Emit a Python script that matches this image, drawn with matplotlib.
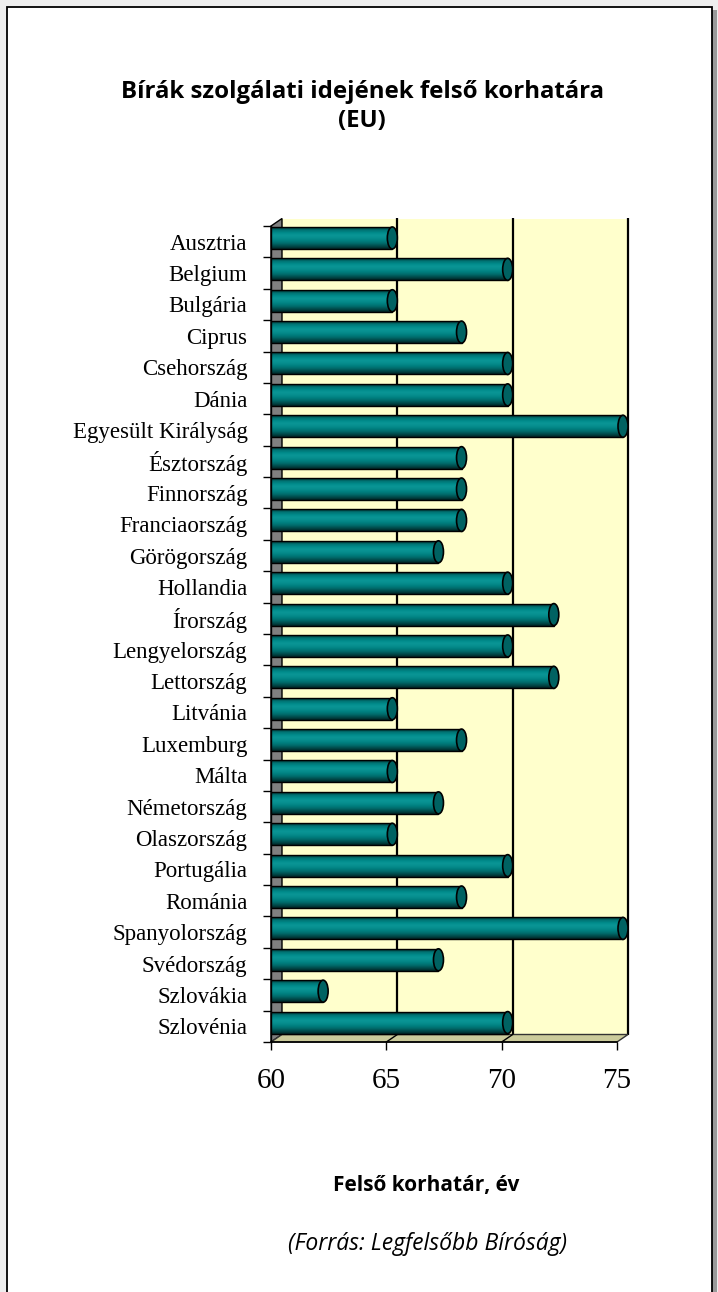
import numpy as np
import matplotlib
matplotlib.use("Agg")
import matplotlib.pyplot as plt
from matplotlib.patches import Rectangle, Polygon, Ellipse, FancyBboxPatch
from matplotlib.colors import LinearSegmentedColormap

# ---------------- data ----------------
countries = ["Ausztria", "Belgium", "Bulgária", "Ciprus", "Csehország", "Dánia",
             "Egyesült Királyság", "Észtország", "Finnország", "Franciaország",
             "Görögország", "Hollandia", "Írország", "Lengyelország", "Lettország",
             "Litvánia", "Luxemburg", "Málta", "Németország", "Olaszország",
             "Portugália", "Románia", "Spanyolország", "Svédország", "Szlovákia",
             "Szlovénia"]
age_limit = [65, 70, 65, 68, 70, 70, 75, 68, 68, 68, 67, 70, 72, 70, 72,
             65, 68, 65, 67, 65, 70, 68, 75, 67, 62, 70]
x_ticks = [60, 65, 70, 75]
title_lines = ["Bírák szolgálati idejének felső korhatára", "(EU)"]
x_label = "Felső korhatár, év"
source = "(Forrás: Legfelsőbb Bíróság)"

# ---------------- figure ----------------
W, H = 718, 1292
fig = plt.figure(figsize=(W / 100, H / 100), dpi=100)
fig.patch.set_facecolor("#EEEEEE")

def fx(px):
    return px / W

def fy(py):
    return 1 - py / H

# page frame with shadow
fig.patches.append(Rectangle((fx(10), fy(1300)), fx(717) - fx(10), fy(10) - fy(1300),
                             transform=fig.transFigure, facecolor="#9A9A9A",
                             edgecolor="none", zorder=0))
fig.patches.append(Rectangle((fx(7), fy(1300)), fx(712) - fx(7), fy(7) - fy(1300),
                             transform=fig.transFigure, facecolor="white",
                             edgecolor="black", linewidth=1.3, zorder=1))

# axes = front plane of the 3D chart
AX_L, AX_R, AX_T, AX_B = 271, 617, 226, 1042
ax = fig.add_axes([fx(AX_L), fy(AX_B), (AX_R - AX_L) / W, (AX_B - AX_T) / H])
ax.set_facecolor("none")
ax.set_zorder(2)
xmin, xmax = x_ticks[0], x_ticks[-1]
n = len(countries)
ymin, ymax = -0.5, n - 0.5

# depth offset (pixels -> data units)
DX = 11 * (xmax - xmin) / (AX_R - AX_L)
DY = 7.5 * n / (AX_B - AX_T)

# back wall
ax.add_patch(Rectangle((xmin + DX, ymin - DY), xmax - xmin, n, facecolor="#FFFFCC",
                       edgecolor="none", zorder=0, clip_on=False))
# gridlines on back wall
ax.vlines([t + DX for t in x_ticks[1:]], ymin - DY, ymax - DY, color="black",
          linewidth=1.6, zorder=1, clip_on=False)
# left side wall
ax.add_patch(Polygon([(xmin, ymin), (xmin + DX, ymin - DY), (xmin + DX, ymax - DY),
                      (xmin, ymax)], closed=True, facecolor="#808080",
                     edgecolor="black", linewidth=1.0, zorder=1, clip_on=False))
# floor
ax.add_patch(Polygon([(xmin, ymax), (xmax, ymax), (xmax + DX, ymax - DY),
                      (xmin + DX, ymax - DY)], closed=True, facecolor="#CBCB9B",
                     edgecolor="#333333", linewidth=1.0, zorder=1, clip_on=False))
for t in x_ticks[1:-1]:
    ax.plot([t, t + DX], [ymax, ymax - DY], color="black", linewidth=1.0,
            zorder=1, clip_on=False)

# cylinder bars
cyl = LinearSegmentedColormap.from_list(
    "cyl", ["#002A2A", "#007272", "#008A8A", "#0A9696", "#078E8E", "#008080",
            "#006A6A", "#004A4A", "#002424"])
grad = np.linspace(0, 1, 64).reshape(-1, 1)
bar_h = 0.70
capw = 10 * (xmax - xmin) / (AX_R - AX_L)
for i, v in enumerate(age_limit):
    yc = i - DY / 2
    x1 = v + DX - capw / 2
    rect = Rectangle((xmin, yc - bar_h / 2), x1 - xmin, bar_h, facecolor="none",
                     edgecolor="black", linewidth=1.0, zorder=4, clip_on=False)
    ax.add_patch(rect)
    im = ax.imshow(grad, cmap=cyl, aspect="auto", interpolation="bilinear",
                   extent=[xmin, x1, yc + bar_h / 2, yc - bar_h / 2], zorder=3)
    im.set_clip_path(rect)
    im.set_clip_box(fig.bbox)
    ax.add_patch(Ellipse((x1, yc), capw, bar_h, facecolor="#006262",
                         edgecolor="black", linewidth=1.2, zorder=5, clip_on=False))

ax.set_xlim(xmin, xmax)
ax.set_ylim(ymax, ymin)

# spines
for s in ["top", "right"]:
    ax.spines[s].set_visible(False)
ax.spines["left"].set_linewidth(1.0)
ax.spines["bottom"].set_linewidth(1.2)

# ticks
ax.set_xticks(x_ticks)
ax.set_xticklabels([str(t) for t in x_ticks], fontsize=21, family="Liberation Serif")
ax.tick_params(axis="x", direction="out", length=6, width=1.0, pad=13)
ax.set_yticks(range(n))
ax.set_yticklabels(countries, fontsize=16.5, family="Liberation Serif")
ax.tick_params(axis="y", which="major", length=0, pad=17)
ax.set_yticks(np.arange(ymin, ymax + 0.1, 1.0), minor=True)
ax.tick_params(axis="y", which="minor", direction="out", length=6, width=1.0)

# titles
fig.text(fx(362), fy(92), title_lines[0], ha="center", va="center", fontsize=17.3,
         fontweight="bold", family="Open Sans")
fig.text(fx(362), fy(121), title_lines[1], ha="center", va="center", fontsize=17.3,
         fontweight="bold", family="Open Sans")
fig.text(fx(426), fy(1185), x_label, ha="center", va="center", fontsize=15,
         fontweight="bold", family="Open Sans")
fig.text(fx(427), fy(1244), source, ha="center", va="center", fontsize=16.5,
         style="italic", family="Open Sans")

fig.savefig("out.png", dpi=100, facecolor=fig.get_facecolor())
